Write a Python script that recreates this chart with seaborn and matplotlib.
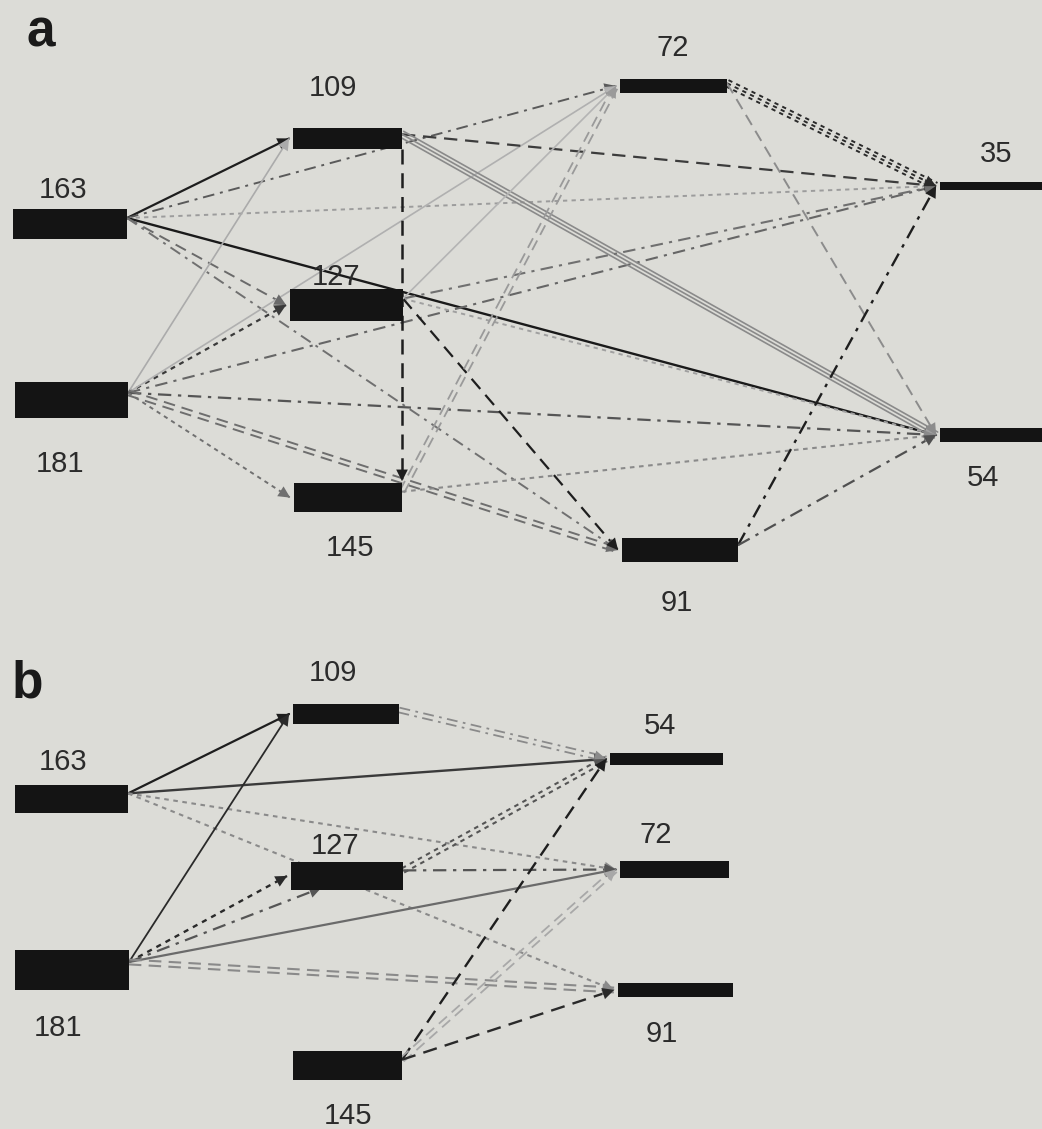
import matplotlib
matplotlib.use("Agg")
import matplotlib.pyplot as plt
from matplotlib.patches import FancyArrowPatch
import numpy as np
import seaborn as sns

sns.set_theme(style="white")
plt.rcParams["font.family"] = ["Liberation Sans", "DejaVu Sans"]

# ---- node labels (data) ----
nodes_a = ["163", "181", "109", "127", "145", "72", "91", "35", "54"]
nodes_b = ["163", "181", "109", "127", "145", "54", "72", "91"]

# ---- edges: (source, target, line style, colour, width, lines) ----
edges_a = [
    ("163", "109", "solid", "#1e1e1e", 1.6, 1),
    ("163", "72", "dashdot", "#5a5a5a", 1.4, 1),
    ("163", "35", "dot", "#9c9c9c", 1.4, 1),
    ("163", "54", "solid", "#1a1a1a", 1.7, 1),
    ("163", "127", "dash", "#6a6a6a", 1.4, 1),
    ("163", "91", "dashdot", "#707070", 1.4, 1),
    ("181", "109", "solid", "#ababab", 1.2, 1),
    ("181", "127", "dot", "#3a3a3a", 1.6, 1),
    ("181", "72", "solid", "#b0b0b0", 1.2, 1),
    ("181", "35", "dashdot", "#666666", 1.5, 1),
    ("181", "54", "dashdot", "#555555", 1.6, 1),
    ("181", "91", "dash", "#6e6e6e", 1.4, 2),
    ("181", "145", "dot", "#707070", 1.4, 1),
    ("109", "35", "dash", "#3c3c3c", 1.6, 1),
    ("109", "54", "solid", "#8a8a8a", 1.2, 3),
    ("109", "145", "dash", "#1e1e1e", 1.8, 1),
    ("127", "35", "dashdot", "#707070", 1.5, 1),
    ("127", "54", "dot", "#a0a0a0", 1.4, 1),
    ("127", "91", "dash", "#1e1e1e", 1.6, 1),
    ("127", "72", "solid", "#b4b4b4", 1.2, 1),
    ("145", "72", "dash", "#9a9a9a", 1.3, 2),
    ("145", "54", "dot", "#8a8a8a", 1.5, 1),
    ("72", "35", "dot", "#2a2a2a", 1.4, 3),
    ("72", "54", "dash", "#8c8c8c", 1.4, 1),
    ("91", "35", "dashdot", "#1e1e1e", 1.7, 1),
    ("91", "54", "dashdot", "#505050", 1.6, 1),
]

edges_b = [
    ("163", "109", "solid", "#1e1e1e", 1.6, 1),
    ("163", "54", "solid", "#3a3a3a", 1.7, 1),
    ("163", "72", "dot", "#8a8a8a", 1.5, 1),
    ("163", "91", "dot", "#8a8a8a", 1.5, 1),
    ("181", "109", "solid", "#2a2a2a", 1.3, 1),
    ("181", "127", "dot", "#2a2a2a", 1.7, 1),
    ("181", "127b", "dashdot", "#555555", 1.6, 1),
    ("181", "72", "solid", "#6a6a6a", 1.6, 1),
    ("181", "91", "dash", "#8a8a8a", 1.5, 2),
    ("109", "54", "dashdot", "#8a8a8a", 1.3, 2),
    ("127", "54", "dot", "#555555", 1.5, 2),
    ("127", "72", "dashdot", "#555555", 1.6, 1),
    ("145", "54", "dash", "#1e1e1e", 1.7, 1),
    ("145", "72", "dash", "#a8a8a8", 1.3, 2),
    ("145", "91", "dash", "#2a2a2a", 1.7, 1),
]

# ---- layout in figure pixels: left, right, top, bottom of each bar ----
layout_a = {
    "163": (13, 127, 209, 239), "181": (15, 128, 382, 418),
    "109": (293, 402, 128, 149), "127": (290, 403, 289, 321),
    "145": (294, 402, 483, 512), "72": (620, 727, 79, 93),
    "91": (622, 738, 538, 562), "35": (940, 1042, 182, 190),
    "54": (940, 1042, 428, 442),
}
labels_a = {
    "163": (63, 190), "181": (60, 464), "109": (333, 88), "127": (336, 277),
    "145": (350, 548), "72": (673, 48), "91": (677, 603), "35": (996, 154),
    "54": (983, 478),
}
layout_b = {
    "163": (15, 128, 785, 813), "181": (15, 129, 950, 990),
    "109": (293, 399, 704, 724), "127": (291, 403, 862, 890),
    "145": (293, 402, 1051, 1080), "54": (610, 723, 753, 765),
    "72": (620, 729, 861, 878), "91": (618, 733, 983, 997),
}
labels_b = {
    "163": (63, 762), "181": (58, 1028), "109": (333, 673), "127": (335, 846),
    "145": (348, 1116), "54": (660, 726), "72": (656, 835), "91": (662, 1034),
}

DASHES = {
    "solid": "-",
    "dash": (0, (6, 3.5)),
    "dashdot": (0, (6, 3, 1.5, 3)),
    "dot": (0, (2.2, 2.2)),
}

W, H = 1042, 1129
fig = plt.figure(figsize=(W / 100, H / 100), dpi=100)
bg = "#dcdcd7"
fig.patch.set_facecolor(bg)
ax = fig.add_axes([0, 0, 1, 1])
ax.set_facecolor(bg)
ax.set_xlim(0, W)
ax.set_ylim(H, 0)
ax.axis("off")


def out_point(box):
    l, r, t, b = box
    return np.array([r, (t + b) / 2 - (b - t) * 0.2])


def in_point(box):
    l, r, t, b = box
    return np.array([l - 4, (t + b) / 2])


def draw_edges(edges, layout):
    for src, dst, style, col, lw, n in edges:
        p0 = out_point(layout[src])
        if dst.endswith("b"):
            l, r, t, b = layout[dst[:-1]]
            p1 = np.array([l + 30, b - 2])
        else:
            p1 = in_point(layout[dst])
        # vertical link down the right side of the middle column
        if src == "109" and dst == "145" and "72" in layout:
            p0 = np.array([layout["109"][1], layout["109"][3]])
            l, r, t, b = layout["145"]
            p1 = np.array([r, t - 2])
        d = p1 - p0
        unit = d / np.hypot(*d)
        perp = np.array([-unit[1], unit[0]])
        offs = [0.0] if n == 1 else ([-2.4, 2.4] if n == 2 else [-3.4, 0, 3.4])
        for o in offs:
            a = p0 + perp * o
            b = p1 + perp * o
            sns.lineplot(x=[a[0], b[0]], y=[a[1], b[1]], ax=ax, color=col,
                         linewidth=lw, linestyle=DASHES[style], sort=False,
                         estimator=None, legend=False)
        head = FancyArrowPatch(p1 - unit * 18, p1 + unit * 3,
                               arrowstyle="-|>", mutation_scale=21,
                               color=col, linewidth=0, zorder=4)
        ax.add_patch(head)


def draw_nodes(layout, labels):
    for name, (l, r, t, b) in layout.items():
        ax.barh(y=(t + b) / 2, width=r - l, left=l, height=b - t,
                color="#141414", edgecolor="none", zorder=5)
        x, y = labels[name]
        ax.text(x, y, name, ha="center", va="center", fontsize=21,
                color="#2b2b2b", zorder=6)


draw_edges(edges_a, layout_a)
draw_nodes(layout_a, labels_a)
draw_edges(edges_b, layout_b)
draw_nodes(layout_b, labels_b)

ax.text(27, 33, "a", fontsize=37, fontweight="bold", ha="left", va="center",
        color="#1a1a1a")
ax.text(12, 684, "b", fontsize=37, fontweight="bold", ha="left", va="center",
        color="#1a1a1a")

fig.savefig("out.png", dpi=100, facecolor=bg)
